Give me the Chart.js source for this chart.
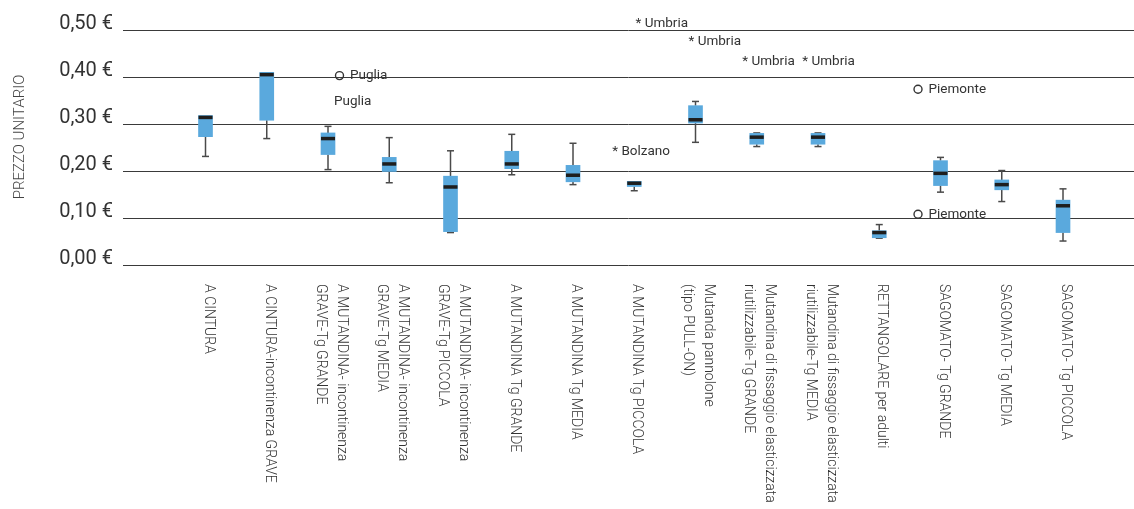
<!DOCTYPE html>
<html lang="it">
<head>
<meta charset="utf-8">
<title>Prezzo unitario per tipologia</title>
<script src="https://cdn.jsdelivr.net/npm/chart.js"></script>
<style>
  html, body { margin: 0; padding: 0; background: #ffffff; }
  #wrap { width: 1134px; height: 509px; }
</style>
</head>
<body>
<div id="wrap"><canvas id="chart" width="1134" height="509"></canvas></div>
<script>
// Categorie (righe multiple per le etichette lunghe)
const categories = [
  ['A CINTURA'],
  ['A CINTURA-incontinenza GRAVE'],
  ['A MUTANDINA- incontinenza', 'GRAVE-Tg GRANDE'],
  ['A MUTANDINA- incontinenza', 'GRAVE-Tg MEDIA'],
  ['A MUTANDINA- incontinenza', 'GRAVE-Tg PICCOLA'],
  ['A MUTANDINA Tg GRANDE'],
  ['A MUTANDINA Tg MEDIA'],
  ['A MUTANDINA Tg PICCOLA'],
  ['Mutanda pannolone', '(tipo PULL-ON)'],
  ['Mutandina di fissaggio elasticizzata', 'riutilizzabile-Tg GRANDE'],
  ['Mutandina di fissaggio elasticizzata', 'riutilizzabile-Tg MEDIA'],
  ['RETTANGOLARE per adulti'],
  ['SAGOMATO- Tg GRANDE'],
  ['SAGOMATO- Tg MEDIA'],
  ['SAGOMATO- Tg PICCOLA']
];

// Statistiche del prezzo unitario (€) per categoria
const minValues    = [0.231, 0.269, 0.203, 0.175, 0.069, 0.192, 0.171, 0.158, 0.261, 0.252, 0.252, 0.057, 0.155, 0.135, 0.051];
const q1Values     = [0.273, 0.308, 0.235, 0.199, 0.071, 0.205, 0.177, 0.167, 0.302, 0.257, 0.257, 0.058, 0.169, 0.160, 0.069];
const medianValues = [0.314, 0.405, 0.269, 0.215, 0.166, 0.215, 0.191, 0.174, 0.309, 0.272, 0.272, 0.069, 0.195, 0.171, 0.126];
const q3Values     = [0.318, 0.410, 0.281, 0.229, 0.189, 0.242, 0.212, 0.178, 0.339, 0.280, 0.280, 0.073, 0.222, 0.181, 0.138];
const maxValues    = [0.318, 0.410, 0.295, 0.271, 0.243, 0.278, 0.259, 0.178, 0.348, 0.281, 0.281, 0.086, 0.229, 0.201, 0.162];

// Asse Y
const yTickValues = [0, 0.1, 0.2, 0.3, 0.4, 0.5];
const yTickLabels = ['0,00 €', '0,10 €', '0,20 €', '0,30 €', '0,40 €', '0,50 €'];
const yTitle = 'PREZZO UNITARIO';

// Valori anomali annotati
const noteCategory = [2, 2, 7, 8, 8, 9, 10, 12, 12];
const noteValue    = [0.403, 0.348, 0.241, 0.513, 0.475, 0.433, 0.433, 0.374, 0.108];
const noteMarker   = ['circle', 'none', 'star', 'star', 'star', 'star', 'star', 'circle', 'circle'];
const noteText     = ['Puglia', 'Puglia', 'Bolzano', 'Umbria', 'Umbria', 'Umbria', 'Umbria', 'Piemonte', 'Piemonte'];
// spostamento orizzontale (px) dell'annotazione rispetto al centro della categoria
const noteShift    = [7, 6, -22, -60, -7, -14.5, -15.7, -27, -27];

const FONT = 'Roboto, "Open Sans", "DejaVu Sans", sans-serif';
const BOX_COLOR = '#5aa9dd';
const BOX_WIDTH = 14;

const boxData = categories.map((c, i) => ({ x: i, y: [q1Values[i], q3Values[i]] }));

// Baffi, mediane, etichette di categoria, annotazioni e titolo dell'asse
const boxDecor = {
  id: 'boxDecor',
  beforeDatasetsDraw(chart) {
    const { ctx, scales: { y } } = chart;
    const meta = chart.getDatasetMeta(0);
    ctx.save();
    ctx.strokeStyle = '#4a4a4a';
    ctx.lineWidth = 1.5;
    meta.data.forEach((bar, i) => {
      const x = bar.x;
      const segments = [[minValues[i], q1Values[i], 0], [q3Values[i], maxValues[i], 1]];
      segments.forEach(([a, b, k]) => {
        if (Math.abs(a - b) < 1e-9) return;
        const ya = y.getPixelForValue(a);
        const yb = y.getPixelForValue(b);
        ctx.beginPath();
        ctx.moveTo(x, ya);
        ctx.lineTo(x, yb);
        ctx.stroke();
        const capY = k === 0 ? ya : yb;
        ctx.beginPath();
        ctx.moveTo(x - 3.5, capY);
        ctx.lineTo(x + 3.5, capY);
        ctx.stroke();
      });
    });
    ctx.restore();
  },
  afterDatasetsDraw(chart) {
    const { ctx, scales: { y } } = chart;
    const meta = chart.getDatasetMeta(0);
    ctx.save();
    ctx.fillStyle = '#1e1e1e';
    meta.data.forEach((bar, i) => {
      const ym = y.getPixelForValue(medianValues[i]);
      ctx.fillRect(bar.x - bar.width / 2, ym - 1.75, bar.width, 3.5);
    });
    ctx.restore();
  },
  afterDraw(chart) {
    const { ctx, chartArea, scales: { x, y } } = chart;
    ctx.save();

    // etichette delle categorie, ruotate di 90°
    ctx.font = '300 14px ' + FONT;
    ctx.fillStyle = '#333333';
    ctx.textAlign = 'left';
    ctx.textBaseline = 'middle';
    const lineH = 21;
    categories.forEach((lines, i) => {
      const px = x.getPixelForValue(i) + 2.5;
      ctx.save();
      ctx.translate(px, chartArea.bottom + 19);
      ctx.rotate(Math.PI / 2);
      lines.forEach((t, j) => {
        ctx.fillText(t, 0, (j - (lines.length - 1) / 2) * lineH);
      });
      ctx.restore();
    });

    // annotazioni dei valori anomali
    ctx.font = '13.5px ' + FONT;
    ctx.fillStyle = '#333333';
    ctx.strokeStyle = '#333333';
    ctx.lineWidth = 1.4;
    noteText.forEach((t, k) => {
      const left = x.getPixelForValue(noteCategory[k]) + noteShift[k];
      const py = y.getPixelForValue(noteValue[k]);
      if (noteMarker[k] === 'circle') {
        ctx.beginPath();
        ctx.arc(left + 4.5, py, 4, 0, Math.PI * 2);
        ctx.stroke();
        ctx.fillText(t, left + 15, py);
      } else if (noteMarker[k] === 'star') {
        ctx.fillText('* ' + t, left, py);
      } else {
        ctx.fillText(t, left, py);
      }
    });

    // titolo dell'asse Y
    ctx.font = '300 15px ' + FONT;
    ctx.fillStyle = '#444444';
    ctx.textAlign = 'center';
    ctx.translate(20, 137);
    ctx.rotate(-Math.PI / 2);
    ctx.fillText(yTitle, 0, 0);
    ctx.restore();
  }
};

new Chart(document.getElementById('chart'), {
  type: 'bar',
  data: {
    datasets: [{
      data: boxData,
      backgroundColor: BOX_COLOR,
      borderWidth: 0,
      barThickness: BOX_WIDTH
    }]
  },
  options: {
    responsive: false,
    animation: false,
    events: [],
    layout: { padding: { left: 0, right: 0, top: 30, bottom: 244 } },
    plugins: { legend: { display: false }, tooltip: { enabled: false } },
    scales: {
      x: {
        type: 'linear',
        display: false,
        offset: false,
        min: -1.347,
        max: 15.159
      },
      y: {
        min: 0,
        max: 0.5,
        afterFit(scale) { scale.width = 123; },
        afterBuildTicks(scale) { scale.ticks = yTickValues.map(v => ({ value: v })); },
        border: { display: false },
        grid: { color: '#3a3a3a', lineWidth: 1, drawTicks: false },
        ticks: {
          padding: 10,
          labelOffset: -6,
          color: '#333333',
          font: { family: FONT, size: 20, weight: '400' },
          callback: (value, index) => yTickLabels[index]
        }
      }
    }
  },
  plugins: [boxDecor]
});
</script>
</body>
</html>
